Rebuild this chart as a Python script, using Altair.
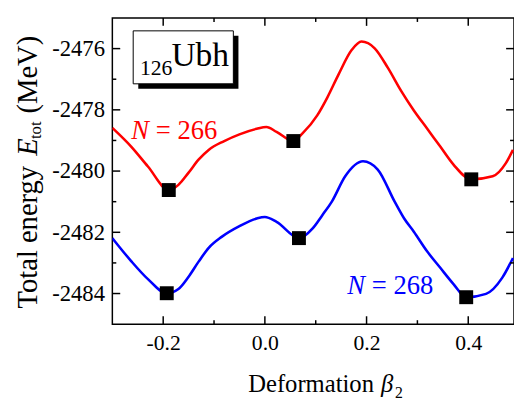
import altair as alt
import pandas as pd

FONT = "Liberation Serif"

# ---- data ----
red_x = [-0.300, -0.263, -0.230, -0.189, -0.170, -0.150, -0.130, -0.110, -0.080, -0.050, -0.016,
         0.003, 0.023, 0.056, 0.074, 0.103, 0.123, 0.145, 0.171, 0.190, 0.216, 0.242, 0.268, 0.293,
         0.319, 0.345, 0.371, 0.406, 0.448, 0.474, 0.488]
red_y = [-2478.59, -2479.20, -2479.85, -2480.62, -2480.45, -2480.05, -2479.62, -2479.30, -2479.02,
         -2478.80, -2478.62, -2478.56, -2478.72, -2479.02, -2478.77, -2478.18, -2477.59, -2476.84,
         -2476.04, -2475.77, -2475.99, -2476.63, -2477.38, -2478.02, -2478.61, -2479.20, -2479.79,
         -2480.27, -2480.17, -2479.74, -2479.31]

blue_x = [-0.300, -0.263, -0.230, -0.193, -0.170, -0.150, -0.130, -0.110, -0.085, -0.050, -0.016,
          0.000, 0.023, 0.067, 0.094, 0.113, 0.132, 0.158, 0.193, 0.222, 0.255, 0.274, 0.293, 0.319,
          0.345, 0.371, 0.396, 0.435, 0.467, 0.488]
blue_y = [-2482.19, -2482.94, -2483.53, -2483.99, -2483.85, -2483.45, -2482.95, -2482.50, -2482.15,
          -2481.80, -2481.55, -2481.50, -2481.66, -2482.19, -2481.87, -2481.44, -2480.99, -2480.17,
          -2479.68, -2479.95, -2480.99, -2481.55, -2481.98, -2482.62, -2483.16, -2483.69, -2484.12,
          -2484.01, -2483.48, -2482.84]

min_x = [-0.189, 0.056, 0.406, -0.193, 0.067, 0.396]
min_y = [-2480.62, -2479.02, -2480.27, -2483.99, -2482.19, -2484.12]

x_major = [-0.2, 0.0, 0.2, 0.4]
x_minor = [-0.1, 0.1, 0.3]
y_major = [-2484, -2482, -2480, -2478, -2476]
y_minor = [-2483, -2481, -2479, -2477]

XDOM = [-0.3, 0.49]
YDOM = [-2485, -2475]
W, H = 408, 311

# label box (data coordinates) and its shadow
box = pd.DataFrame({"x": [-0.259], "x2": [-0.062], "y": [-2475.42], "y2": [-2477.15]})
shadow = pd.DataFrame({"x": [-0.249], "x2": [-0.052], "y": [-2475.58], "y2": [-2477.31]})

xs = alt.Scale(domain=XDOM, nice=False, zero=False)
ys = alt.Scale(domain=YDOM, nice=False, zero=False)

curves = pd.DataFrame({
    "b": red_x + blue_x,
    "E": red_y + blue_y,
    "N": ["266"] * len(red_x) + ["268"] * len(blue_x),
})

xaxis = alt.Axis(values=x_major, ticks=False, domain=False, grid=False, labelFont=FONT,
                 labelFontSize=22, labelColor="black", labelPadding=9, title=None,
                 labelExpr="datum.value < 0 ? '-' + format(-datum.value, '.1f') : format(datum.value, '.1f')")
yaxis = alt.Axis(values=y_major, ticks=False, domain=False, grid=False, labelFont=FONT,
                 labelFontSize=23, labelColor="black", labelPadding=8, title=None,
                 labelExpr="datum.value < 0 ? '-' + format(-datum.value, 'd') : format(datum.value, 'd')")

lines = alt.Chart(curves).mark_line(interpolate="monotone", strokeWidth=2.6, clip=True).encode(
    x=alt.X("b:Q", scale=xs, axis=xaxis),
    y=alt.Y("E:Q", scale=ys, axis=yaxis),
    color=alt.Color("N:N", scale=alt.Scale(domain=["266", "268"], range=["#ff0000", "#0000ff"]), legend=None),
    detail="N:N",
)

squares = alt.Chart(pd.DataFrame({"b": min_x, "E": min_y})).mark_square(
    size=200, color="black", opacity=1).encode(x=alt.X("b:Q", scale=xs), y=alt.Y("E:Q", scale=ys))

# inward ticks
xt = pd.DataFrame({"v": x_major + x_minor, "len": [8] * len(x_major) + [4] * len(x_minor)})
yt = pd.DataFrame({"v": y_major + y_minor, "len": [8] * len(y_major) + [4] * len(y_minor)})
tick_style = dict(color="black", strokeWidth=1.5)
ticks = []
for L in (8, 4):
    dx = xt[xt["len"] == L]
    dy = yt[yt["len"] == L]
    ticks.append(alt.Chart(dx).mark_rule(**tick_style).encode(
        x=alt.X("v:Q", scale=xs), y=alt.value(H), y2=alt.value(H - L)))
    ticks.append(alt.Chart(dx).mark_rule(**tick_style).encode(
        x=alt.X("v:Q", scale=xs), y=alt.value(0), y2=alt.value(L)))
    ticks.append(alt.Chart(dy).mark_rule(**tick_style).encode(
        y=alt.Y("v:Q", scale=ys), x=alt.value(0), x2=alt.value(L)))
    ticks.append(alt.Chart(dy).mark_rule(**tick_style).encode(
        y=alt.Y("v:Q", scale=ys), x=alt.value(W), x2=alt.value(W - L)))

shadow_l = alt.Chart(shadow).mark_rect(color="black").encode(
    x=alt.X("x:Q", scale=xs), x2="x2:Q", y=alt.Y("y:Q", scale=ys), y2="y2:Q")
box_l = alt.Chart(box).mark_rect(fill="white", stroke="black", strokeWidth=1).encode(
    x=alt.X("x:Q", scale=xs), x2="x2:Q", y=alt.Y("y:Q", scale=ys), y2="y2:Q")


def txt(df, **kw):
    base = dict(font=FONT, align="left", baseline="alphabetic", color="black")
    base.update(kw)
    return alt.Chart(pd.DataFrame(df)).mark_text(**base).encode(
        x=alt.X("x:Q", scale=xs), y=alt.Y("y:Q", scale=ys), text="t:N")


nuc_sub = txt({"x": [-0.2458], "y": [-2476.86], "t": ["126"]}, fontSize=22)
nuc = txt({"x": [-0.1838], "y": [-2476.58], "t": ["Ubh"]}, fontSize=34)

red_N = txt({"x": [-0.263], "y": [-2478.95], "t": ["N"]}, fontSize=27, fontStyle="italic", color="#ff0000")
red_v = txt({"x": [-0.263], "y": [-2478.95], "t": ["= 266"]}, fontSize=27, color="#ff0000", dx=25)
blue_N = txt({"x": [0.162], "y": [-2484.0], "t": ["N"]}, fontSize=27, fontStyle="italic", color="#0000ff")
blue_v = txt({"x": [0.162], "y": [-2484.0], "t": ["= 268"]}, fontSize=27, color="#0000ff", dx=25)


def ptxt(t, x, y, **kw):
    base = dict(font=FONT, align="left", baseline="alphabetic", color="black")
    base.update(kw)
    return alt.Chart(pd.DataFrame({"t": [t]})).mark_text(**base).encode(
        x=alt.value(x), y=alt.value(y), text="t:N")


# x-axis title: Deformation β2
xt1 = ptxt("Deformation", 138, 380, fontSize=25)
xt2 = ptxt("β", 273, 380, fontSize=25, fontStyle="italic")
xt3 = ptxt("2", 287, 386, fontSize=16)

# y-axis title: Total energy E_tot (MeV), rotated
yt1 = ptxt("Total energy", -77, 295, fontSize=29, angle=270)
yt2 = ptxt("E", -77, 140, fontSize=29, angle=270, fontStyle="italic")
yt3 = ptxt("tot", -72, 123, fontSize=17, angle=270)
yt4 = ptxt("(MeV)", -77, 97, fontSize=29, angle=270)

chart = alt.layer(
    lines, squares, *ticks, shadow_l, box_l, nuc_sub, nuc,
    red_N, red_v, blue_N, blue_v, xt1, xt2, xt3, yt1, yt2, yt3, yt4,
).properties(
    width=W, height=H,
    autosize=alt.AutoSizeParams(type="none"),
    padding={"left": 106, "top": 7, "right": 0, "bottom": 80},
).configure_view(stroke="black", strokeWidth=1.5)

chart.save("out.html", embed_options={"renderer": "svg", "actions": False})
